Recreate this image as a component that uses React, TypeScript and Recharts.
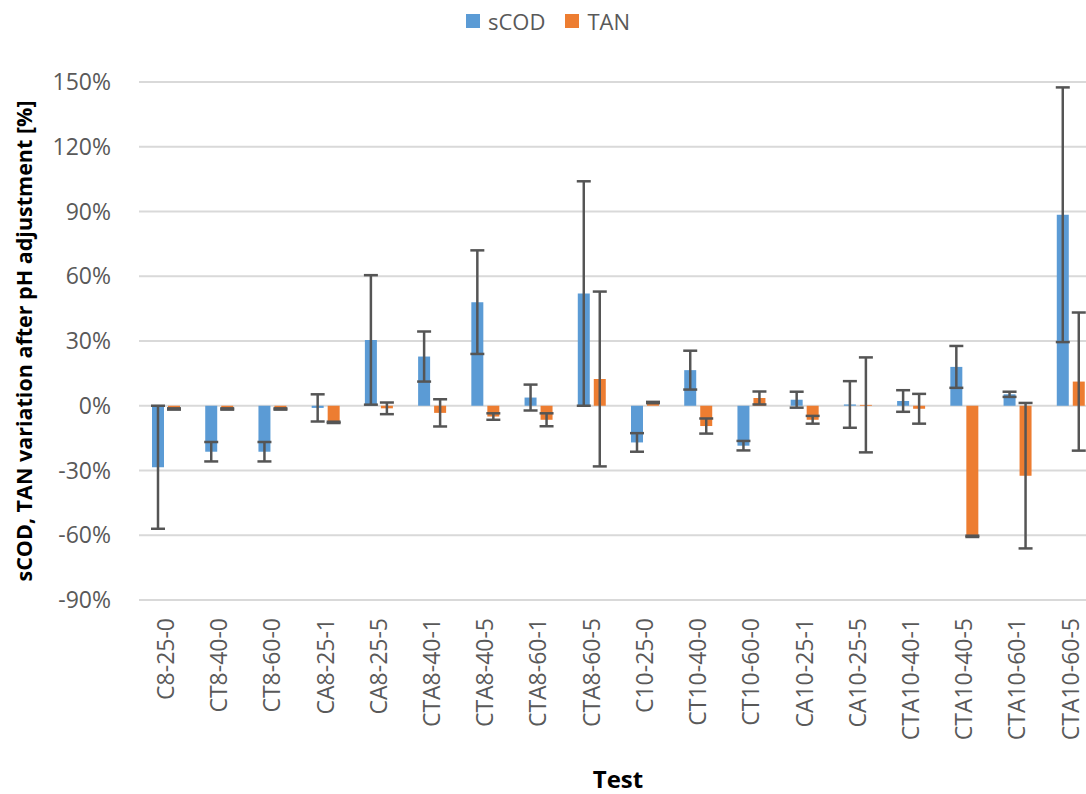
import { BarChart, Bar, XAxis, YAxis, CartesianGrid, Legend, ErrorBar } from "recharts";

/* ── Data ─────────────────────────────────────────────────────── */

const categories = [
  "C8-25-0", "CT8-40-0", "CT8-60-0", "CA8-25-1", "CA8-25-5", "CTA8-40-1",
  "CTA8-40-5", "CTA8-60-1", "CTA8-60-5", "C10-25-0", "CT10-40-0", "CT10-60-0",
  "CA10-25-1", "CA10-25-5", "CTA10-40-1", "CTA10-40-5", "CTA10-60-1", "CTA10-60-5",
];
const scodValues = [-28.5, -21.3, -21.3, -1, 30.5, 22.8, 48, 3.8, 52, -17, 16.5, -18.5, 2.8, 0.6, 2.2, 18, 5.3, 88.5];
const scodErrors = [28.5, 4.5, 4.5, 6.3, 30, 11.6, 24, 6, 52, 4.3, 9, 2.2, 3.7, 10.8, 5, 9.7, 1.2, 59];
const tanValues = [-1.5, -1.5, -1.5, -7.7, -1.2, -3.3, -5, -6.5, 12.4, 1.5, -9.4, 3.6, -6.5, 0.4, -1.4, -60.5, -32.4, 11.2];
const tanErrors = [0.3, 0.3, 0.3, 0.3, 2.7, 6.3, 1.5, 3, 40.5, 0.3, 3.5, 3, 1.8, 22, 6.9, 0.3, 33.7, 32];
const yTicks = [-90, -60, -30, 0, 30, 60, 90, 120, 150];

const data = categories.map((test, i) => ({
  test,
  sCOD: scodValues[i],
  sCODErr: scodErrors[i],
  TAN: tanValues[i],
  TANErr: tanErrors[i],
}));

const FONT = "'Open Sans', sans-serif";
const GREY = "#595959";
const BLUE = "#5B9BD5";
const ORANGE = "#ED7D31";

function CategoryTick({ x, y, payload }: any) {
  return (
    <text
      transform={`translate(${x},${y + 10}) rotate(-90)`}
      textAnchor="end"
      dy="0.36em"
      fill={GREY}
      fontSize={23}
      fontFamily={FONT}
    >
      {payload.value}
    </text>
  );
}

function LegendContent() {
  const items = [
    { name: "sCOD", color: BLUE },
    { name: "TAN", color: ORANGE },
  ];
  return (
    <div style={{ display: "flex", justifyContent: "center", paddingLeft: 10, gap: 20 }}>
      {items.map((it) => (
        <div key={it.name} style={{ display: "flex", alignItems: "center", gap: 8 }}>
          <span style={{ width: 14, height: 14, background: it.color, display: "inline-block" }} />
          <span style={{ fontFamily: FONT, fontSize: 22, color: GREY, lineHeight: "30px" }}>{it.name}</span>
        </div>
      ))}
    </div>
  );
}

export default function App() {
  return (
    <div
      style={{
        position: "absolute",
        left: 0,
        top: 0,
        width: 1086,
        height: 794,
        overflow: "hidden",
        background: "#fff",
      }}
    >
      <BarChart
        width={1098}
        height={794}
        data={data}
        margin={{ top: 82, right: 1, bottom: 0, left: 0 }}
        barSize={12}
        barGap={4}
      >
        <CartesianGrid vertical={false} stroke="#d9d9d9" strokeWidth={2} />
        <XAxis
          dataKey="test"
          axisLine={false}
          tickLine={false}
          interval={0}
          height={194}
          tick={<CategoryTick />}
          label={{
            value: "Test",
            position: "insideBottom",
            offset: 6,
            style: { fontFamily: FONT, fontWeight: 700, fontSize: 24, fill: "#000" },
          }}
        />
        <YAxis
          domain={[-90, 150]}
          ticks={yTicks}
          width={139}
          axisLine={false}
          tickLine={false}
          tickMargin={22}
          tickFormatter={(v) => `${v}%`}
          tick={{ fill: GREY, fontSize: 23, fontFamily: FONT }}
          label={{
            value: "sCOD, TAN variation after pH adjustment [%]",
            angle: -90,
            position: "insideLeft",
            offset: 24,
            style: {
              textAnchor: "middle",
              fontFamily: FONT,
              fontWeight: 700,
              fontSize: 21.5,
              fill: "#000",
            },
          }}
        />
        <Legend
          layout="horizontal"
          verticalAlign="middle"
          align="center"
          wrapperStyle={{ top: 6, left: 0, width: 1086 }}
          content={<LegendContent />}
        />
        <Bar dataKey="sCOD" fill={BLUE} isAnimationActive={false}>
          <ErrorBar dataKey="sCODErr" width={7} stroke="#555" strokeWidth={2.5} isAnimationActive={false} />
        </Bar>
        <Bar dataKey="TAN" fill={ORANGE} isAnimationActive={false}>
          <ErrorBar dataKey="TANErr" width={7} stroke="#555" strokeWidth={2.5} isAnimationActive={false} />
        </Bar>
      </BarChart>
    </div>
  );
}
